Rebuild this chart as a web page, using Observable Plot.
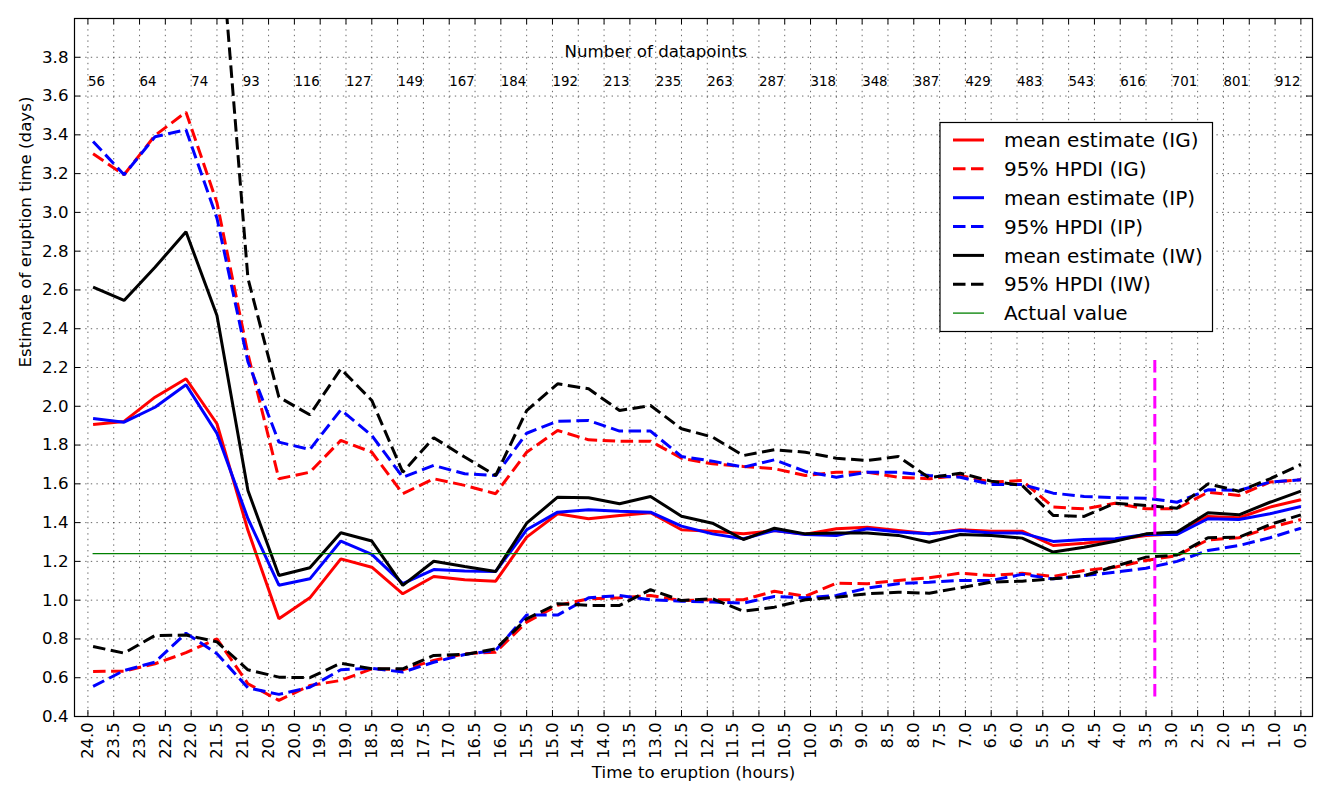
<!DOCTYPE html>
<html><head><meta charset="utf-8">
<script src="https://cdn.jsdelivr.net/npm/d3@7"></script>
<script src="https://cdn.jsdelivr.net/npm/@observablehq/plot@0.6"></script>
<style>body{margin:0;background:#fff;} #chart{font-family:"DejaVu Sans";}</style>
</head><body><div id="chart"></div>
<script>
// ---- data ----
const hours = [23.9, 23.3, 22.7, 22.1, 21.5, 20.9, 20.3, 19.7, 19.1, 18.5,
  17.9, 17.3, 16.7, 16.1, 15.5, 14.9, 14.3, 13.7, 13.1, 12.5,
  11.9, 11.3, 10.7, 10.1, 9.5, 8.9, 8.3, 7.7, 7.1, 6.5,
  5.9, 5.3, 4.7, 4.1, 3.5, 2.9, 2.3, 1.7, 1.1, 0.5];

const igMean = [1.906, 1.922, 2.047, 2.142, 1.91, 1.36, 0.904, 1.012, 1.213, 1.17,
  1.033, 1.122, 1.105, 1.098, 1.325, 1.446, 1.42, 1.437, 1.451, 1.363,
  1.356, 1.342, 1.359, 1.34, 1.368, 1.376, 1.359, 1.342, 1.363, 1.356,
  1.356, 1.282, 1.294, 1.311, 1.334, 1.342, 1.432, 1.425, 1.48, 1.518];
const igUpper = [3.302, 3.194, 3.397, 3.517, 3.05, 2.27, 1.626, 1.66, 1.824, 1.763,
  1.549, 1.626, 1.592, 1.549, 1.763, 1.875, 1.827, 1.82, 1.82, 1.732,
  1.703, 1.69, 1.678, 1.643, 1.66, 1.66, 1.634, 1.626, 1.643, 1.609,
  1.617, 1.48, 1.471, 1.5, 1.471, 1.471, 1.557, 1.54, 1.609, 1.621];
const igLower = [0.632, 0.634, 0.672, 0.729, 0.801, 0.569, 0.483, 0.56, 0.586, 0.646,
  0.641, 0.689, 0.724, 0.732, 0.887, 0.973, 1.007, 1.012, 1.024, 0.998,
  1.002, 1.002, 1.046, 1.02, 1.088, 1.085, 1.102, 1.116, 1.139, 1.127,
  1.139, 1.122, 1.153, 1.17, 1.205, 1.23, 1.311, 1.322, 1.374, 1.416];

const ipMean = [1.937, 1.918, 1.995, 2.111, 1.86, 1.42, 1.077, 1.11, 1.305, 1.236,
  1.085, 1.158, 1.15, 1.148, 1.363, 1.454, 1.466, 1.459, 1.454, 1.382,
  1.342, 1.317, 1.359, 1.339, 1.334, 1.368, 1.351, 1.342, 1.359, 1.346,
  1.346, 1.303, 1.313, 1.317, 1.339, 1.339, 1.42, 1.416, 1.446, 1.483];
const ipUpper = [3.366, 3.194, 3.39, 3.426, 2.97, 2.23, 1.815, 1.777, 1.982, 1.849,
  1.634, 1.695, 1.652, 1.643, 1.861, 1.923, 1.927, 1.872, 1.872, 1.741,
  1.717, 1.686, 1.724, 1.664, 1.634, 1.66, 1.66, 1.643, 1.634, 1.597,
  1.597, 1.552, 1.535, 1.528, 1.526, 1.505, 1.569, 1.566, 1.609, 1.621];
const ipLower = [0.555, 0.637, 0.68, 0.83, 0.724, 0.548, 0.514, 0.551, 0.641, 0.649,
  0.629, 0.68, 0.72, 0.741, 0.923, 0.923, 1.012, 1.024, 1.002, 0.995,
  0.99, 0.985, 1.019, 1.012, 1.024, 1.062, 1.085, 1.093, 1.102, 1.102,
  1.133, 1.11, 1.127, 1.144, 1.165, 1.2, 1.256, 1.282, 1.322, 1.371];

const iwMean = [2.614, 2.546, 2.717, 2.9, 2.468, 1.566, 1.127, 1.167, 1.348, 1.305,
  1.076, 1.201, 1.174, 1.148, 1.397, 1.531, 1.528, 1.497, 1.535, 1.433,
  1.397, 1.313, 1.371, 1.342, 1.346, 1.346, 1.334, 1.299, 1.339, 1.334,
  1.32, 1.248, 1.273, 1.304, 1.342, 1.351, 1.451, 1.44, 1.505, 1.562];
const iwUpper = [4.9, 4.7, 5.1, 5.3, 4.645, 2.66, 2.047, 1.956, 2.193, 2.03,
  1.66, 1.838, 1.738, 1.643, 1.978, 2.116, 2.09, 1.978, 2.004, 1.884,
  1.841, 1.746, 1.776, 1.763, 1.732, 1.72, 1.741, 1.631, 1.655, 1.614,
  1.592, 1.437, 1.432, 1.5, 1.488, 1.474, 1.6, 1.562, 1.626, 1.7];
const iwLower = [0.761, 0.727, 0.818, 0.82, 0.785, 0.641, 0.603, 0.6, 0.675, 0.646,
  0.646, 0.715, 0.72, 0.749, 0.904, 0.982, 0.973, 0.973, 1.054, 0.998,
  1.007, 0.943, 0.964, 1.002, 1.015, 1.033, 1.041, 1.036, 1.064, 1.093,
  1.098, 1.11, 1.126, 1.175, 1.222, 1.233, 1.322, 1.325, 1.39, 1.44];

const actualValue = 1.24;
const markerHour = 3.33;
const markerRange = [0.5, 2.26];

const countHours = [24, 23, 22, 21, 20, 19, 18, 17, 16, 15, 14, 13, 12, 11, 10, 9, 8, 7, 6, 5, 4, 3, 2, 1];
const counts = [56, 64, 74, 93, 116, 127, 149, 167, 184, 192, 213, 235, 263, 287, 318, 348, 387, 429, 483, 543, 616, 701, 801, 912];

const xTicks = [24.0, 23.5, 23.0, 22.5, 22.0, 21.5, 21.0, 20.5, 20.0, 19.5, 19.0, 18.5, 18.0, 17.5, 17.0, 16.5,
  16.0, 15.5, 15.0, 14.5, 14.0, 13.5, 13.0, 12.5, 12.0, 11.5, 11.0, 10.5, 10.0, 9.5, 9.0, 8.5,
  8.0, 7.5, 7.0, 6.5, 6.0, 5.5, 5.0, 4.5, 4.0, 3.5, 3.0, 2.5, 2.0, 1.5, 1.0, 0.5];
const yTicks = [0.4, 0.6, 0.8, 1.0, 1.2, 1.4, 1.6, 1.8, 2.0, 2.2, 2.4, 2.6, 2.8, 3.0, 3.2, 3.4, 3.6, 3.8];

const legendItems = [
  {label: "mean estimate (IG)", color: "#ff0000", dash: false, thin: false},
  {label: "95% HPDI (IG)", color: "#ff0000", dash: true, thin: false},
  {label: "mean estimate (IP)", color: "#0000ff", dash: false, thin: false},
  {label: "95% HPDI (IP)", color: "#0000ff", dash: true, thin: false},
  {label: "mean estimate (IW)", color: "#000000", dash: false, thin: false},
  {label: "95% HPDI (IW)", color: "#000000", dash: true, thin: false},
  {label: "Actual value", color: "#008000", dash: false, thin: true}
];

// ---- layout / style ----
const W = 1330, H = 800;
const mL = 74, mR = 18, mT = 18, mB = 84;
const frameW = W - mL - mR, frameH = H - mT - mB;
const tickLen = 6;
const lw = 3;
const dashPattern = "12.5,5.5";
const font = "DejaVu Sans";

function lineMark(values, color, dashed) {
  return Plot.line(hours, {x: hours, y: values, stroke: color, strokeWidth: lw,
    strokeDasharray: dashed ? dashPattern : null, clip: true, strokeLinejoin: "miter", strokeLinecap: "butt"});
}

const grid = {stroke: "black", strokeOpacity: 1, strokeWidth: 0.6, strokeDasharray: "1.4,4.2"};

const chart = Plot.plot({
  width: W, height: H,
  marginLeft: mL, marginRight: mR, marginTop: mT, marginBottom: mB,
  style: {fontFamily: font, color: "black", background: "white", overflow: "visible"},
  x: {domain: [24.26, 0.275]},
  y: {domain: [0.4, 4.0]},
  marks: [
    Plot.gridX(xTicks, grid),
    Plot.gridY(yTicks, grid),
    lineMark(igMean, "#ff0000", false),
    lineMark(igUpper, "#ff0000", true),
    lineMark(igLower, "#ff0000", true),
    lineMark(ipMean, "#0000ff", false),
    lineMark(ipUpper, "#0000ff", true),
    lineMark(ipLower, "#0000ff", true),
    lineMark(iwMean, "#000000", false),
    lineMark(iwUpper, "#000000", true),
    lineMark(iwLower, "#000000", true),
    Plot.ruleY([actualValue], {x1: hours[0], x2: hours[hours.length - 1], stroke: "#008000", strokeWidth: 1.3}),
    Plot.ruleX([markerHour], {y1: markerRange[0], y2: markerRange[1], stroke: "#ff00ff", strokeWidth: lw, strokeDasharray: dashPattern}),
    // numbers of datapoints
    Plot.text(countHours, {x: countHours, y: () => 3.675, text: (d, i) => String(counts[i]), textAnchor: "start", fontSize: 13.33, fill: "black"}),
    Plot.text(["Number of datapoints"], {x: () => 13, y: () => 3.83, text: d => d, textAnchor: "middle", fontSize: 16.67, fill: "black"}),
    // inward ticks on all four sides
    Plot.tickX(xTicks, {x: d => d, insetTop: frameH - tickLen, stroke: "black", strokeWidth: 1}),
    Plot.tickX(xTicks, {x: d => d, insetBottom: frameH - tickLen, stroke: "black", strokeWidth: 1}),
    Plot.tickY(yTicks, {y: d => d, insetRight: frameW - tickLen, stroke: "black", strokeWidth: 1}),
    Plot.tickY(yTicks, {y: d => d, insetLeft: frameW - tickLen, stroke: "black", strokeWidth: 1}),
    Plot.axisX({ticks: xTicks, tickFormat: d => d.toFixed(1), tickRotate: -90, tickSize: 0, tickPadding: 6, fontSize: 16.3, label: null}),
    Plot.axisY({ticks: yTicks, tickFormat: d => d.toFixed(1), tickSize: 0, tickPadding: 6, fontSize: 16.67, label: null}),
    Plot.frame({stroke: "black", strokeWidth: 1.2}),
    Plot.text(["Estimate of eruption time (days)"], {frameAnchor: "left", dx: -49, rotate: -90, text: d => d, fontSize: 16.67, fill: "black"}),
    Plot.text(["Time to eruption (hours)"], {frameAnchor: "bottom", dy: 61, text: d => d, fontSize: 16.67, fill: "black"})
  ]
});

// legend drawn inside the plot area
const svg = d3.select(chart);
const lg = svg.append("g").attr("font-family", font).attr("font-size", 20).attr("text-anchor", "start");
const box = {x: 940, y: 122.5, w: 272.5, h: 209};
lg.append("rect").attr("x", box.x).attr("y", box.y).attr("width", box.w).attr("height", box.h)
  .attr("fill", "white").attr("stroke", "black").attr("stroke-width", 1.2);
legendItems.forEach((it, i) => {
  const cy = 140 + i * 28.85;
  lg.append("line").attr("x1", 953).attr("x2", 984).attr("y1", cy).attr("y2", cy)
    .attr("stroke", it.color).attr("stroke-width", it.thin ? 1.3 : lw)
    .attr("stroke-dasharray", it.dash ? dashPattern : null);
  lg.append("text").attr("x", 1004).attr("y", cy).attr("dy", "0.36em").attr("fill", "black")
    .attr("text-anchor", "start").text(it.label);
});

document.getElementById("chart").appendChild(chart);
</script>
</body></html>
